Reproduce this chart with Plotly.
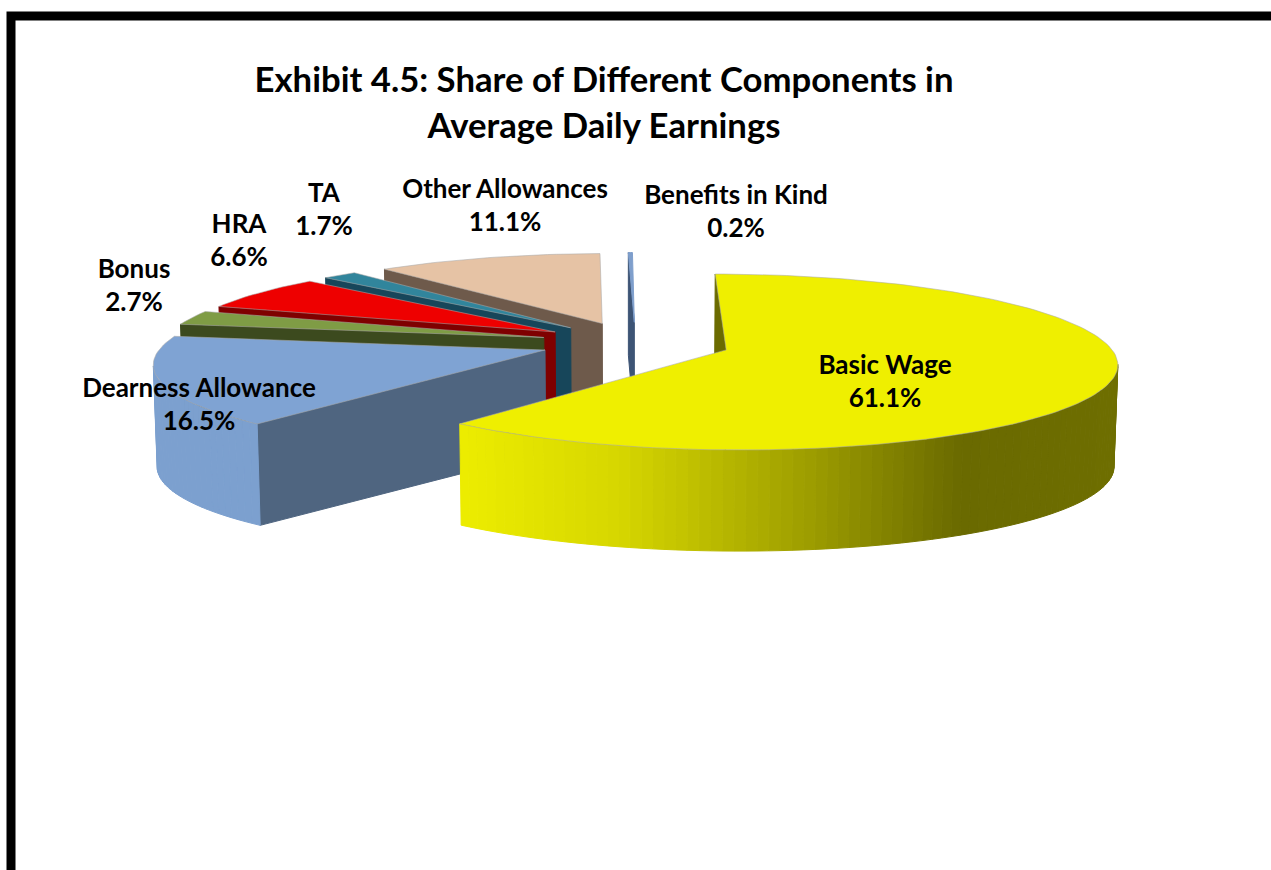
import math
import plotly.graph_objects as go

categories = ["Basic Wage", "Dearness Allowance", "Bonus", "HRA", "TA", "Other Allowances", "Benefits in Kind"]
shares = [61.1, 16.5, 2.7, 6.6, 1.7, 11.1, 0.2]

title_lines = ["Exhibit 4.5: Share of Different Components in", "Average Daily Earnings"]

# styling / geometry of the 3-D exploded pie
top_colors = ["#EFEF00", "#7FA3D3", "#7F9C45", "#EE0000", "#31859C", "#E6C3A5", "#7F9FCC"]
wall_colors = ["#6B6B00", "#4F6580", "#3C4A1E", "#7F0000", "#17465A", "#6E5A4B", "#3D5475"]
label_x = [885, 199, 134, 239, 324, 505, 736]
label_y = [384, 407, 288, 243, 212, 208, 214]
EXPLODE, VX, VY, RX, RY, K, DROP, G = 0.25, 635.5, 342.6, 381.5, 84.3, 0.136, 102, 0.992


def project(x, w):
    f = 1 / (1 + K * w)
    return VX + RX * x * f, VY - RY * w * f


def drop(p):
    return VX + (p[0] - VX) * G, VY + DROP + (p[1] - VY) * G


def mix(c1, c2, a):
    a = max(0, min(1, a))
    v = [int(c1[i:i + 2], 16) * (1 - a) + int(c2[i:i + 2], 16) * a for i in (1, 3, 5)]
    return "#%02X%02X%02X" % tuple(int(round(n)) for n in v)


def rim_color(i, px):
    if i == 0:
        stops = [(460, "#EDED00"), (620, "#D6D600"), (800, "#A0A000"), (960, "#6A6A00"), (1117, "#6E6E00")]
        for (a, ca), (b, cb) in zip(stops, stops[1:]):
            if px <= b:
                return mix(ca, cb, (px - a) / (b - a))
        return stops[-1][1]
    return mix(top_colors[i], "#7A9CCB", 0.5)


fig = go.Figure()


def poly(pts, color, line=None, width=1):
    fig.add_trace(go.Scatter(
        x=[p[0] for p in pts] + [pts[0][0]], y=[p[1] for p in pts] + [pts[0][1]],
        mode="lines", fill="toself", fillcolor=color,
        line=dict(color=line or color, width=width), hoverinfo="skip", showlegend=False))


starts, cum = [], 0.0
for v in shares:
    starts.append(cum)
    cum += v

for i in reversed(range(len(shares))):
    t1 = starts[i] * 3.6
    t2 = (starts[i] + shares[i]) * 3.6
    mid = math.radians((t1 + t2) / 2)
    ax, aw = EXPLODE * math.sin(mid), EXPLODE * math.cos(mid)
    n = max(2, int((t2 - t1) / 1.5))
    ts = [math.radians(t1 + (t2 - t1) * j / n) for j in range(n + 1)]
    rim = [project(ax + math.sin(t), aw + math.cos(t)) for t in ts]
    apex = project(ax, aw)
    # cut face at the start of the slice
    poly([apex, rim[0], drop(rim[0]), drop(apex)], wall_colors[i])
    # outer rim, only the part facing the viewer
    for a, b in zip(rim, rim[1:]):
        if b[0] < a[0] and (a[1] + b[1]) / 2 > VY - 30:
            poly([a, b, drop(b), drop(a)], rim_color(i, (a[0] + b[0]) / 2))
    # top face
    poly([apex] + rim, top_colors[i],
         line=None if i == 6 else "rgba(170,170,170,0.55)")

fig.add_trace(go.Scatter(
    x=label_x, y=label_y, mode="text",
    text=[f"<b>{c}<br>{v}%</b>" for c, v in zip(categories, shares)],
    textposition="middle center",
    textfont=dict(family="Lato", size=26, color="#000000"),
    hoverinfo="skip", showlegend=False))

fig.update_layout(
    width=1271, height=870, margin=dict(l=0, r=0, t=0, b=0),
    paper_bgcolor="white", plot_bgcolor="white", showlegend=False,
    xaxis=dict(range=[0, 1271], visible=False, fixedrange=True),
    yaxis=dict(range=[870, 0], visible=False, fixedrange=True),
    title=dict(
        text="<br>".join(f'<span style="font-size:34.7px">{s}</span>' for s in title_lines),
        font=dict(family="Lato", size=35, color="#000000", weight="bold"),
        x=604 / 1271, xanchor="center", y=1 - 92 / 870, yanchor="middle"),
    shapes=[dict(type="rect", xref="x", yref="y", x0=11, y0=16, x1=1320, y1=920,
                 line=dict(color="#000000", width=9), fillcolor="rgba(0,0,0,0)")],
)
fig.write_html("out.html", config=dict(displayModeBar=False),
               post_script="document.body.style.margin='0';window.dispatchEvent(new Event('resize'));")
